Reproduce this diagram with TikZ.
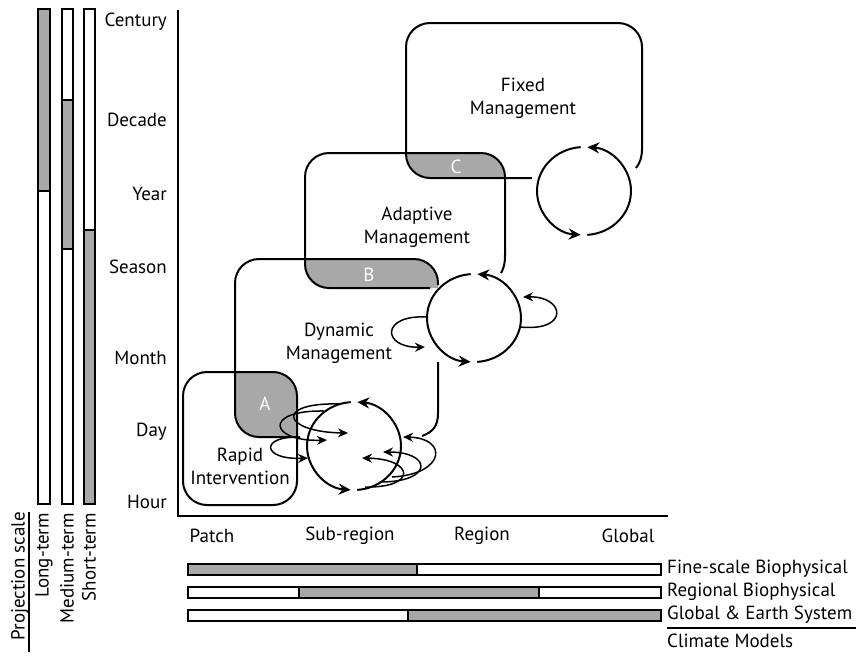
\documentclass[tikz,border=0pt]{standalone}
\usepackage{fontspec}
\setmainfont{PT Sans}
\usetikzlibrary{arrows.meta}
\definecolor{zonegray}{RGB}{168,168,168}

\begin{document}
\begin{tikzpicture}[x=1pt, y=-1pt,
        font=\fontsize{19}{23}\selectfont,
        edge/.style={line width=2pt},
        mgmt/.style={edge, rounded corners=24pt},
        cyc/.style={line width=2pt, -{Stealth[length=12pt,width=11pt]}},
        fb/.style={line width=1.5pt, -{Stealth[length=10pt,width=9pt]}},
        bar/.style={draw, line width=1.5pt},
        zone/.style={text=white, inner sep=0pt}]
        \useasboundingbox (0,0) rectangle (856,657);

        % overlap zones
        \begin{scope}
            \clip[rounded corners=24pt] (183,372) rectangle (297,505);
            \fill[zonegray, rounded corners=24pt] (235,259) rectangle (438,437);
        \end{scope}
        \begin{scope}
            \clip[rounded corners=24pt] (305,153) rectangle (505,288);
            \fill[zonegray, rounded corners=24pt] (235,259) rectangle (438,437);
        \end{scope}
        \begin{scope}
            \clip[rounded corners=24pt] (406,23) rectangle (642,178);
            \fill[zonegray, rounded corners=24pt] (305,153) rectangle (505,288);
        \end{scope}

        % management boxes
        \draw[mgmt] (183,372) rectangle (297,505);
        \draw[mgmt] (300,437) -- (235,437) -- (235,259) -- (438,259) -- (438,285);
        \draw[edge] (438,362) -- (438,413) .. controls (438,426) and (433,432) .. (422,436);
        \draw[mgmt] (430,288) -- (305,288) -- (305,153) -- (505,153) -- (505,256);
        \draw[edge] (505,255) .. controls (505,263) and (504,268) .. (501,273);
        \draw[mgmt] (532,178) -- (406,178) -- (406,23) -- (642,23) -- (642,150);
        \draw[edge] (642,149) .. controls (642,157) and (640,163) .. (636,168);

        \node[zone] (a) at (265,404) {A};
        \node[zone] (b) at (369,275) {B};
        \node[zone] (c) at (456,167) {C};
        \node[align=center] (fixed) at (523,98) {Fixed\\Management};
        \node[align=center] (adaptive) at (417,227) {Adaptive\\Management};
        \node[align=center] (dynamic) at (339,343) {Dynamic\\Management};
        \node[align=center] (rapid) at (240,466) {Rapid\\Intervention};

        % cycles
        \coordinate (fixc) at (584,191);
        \coordinate (adac) at (474,318);
        \coordinate (dync) at (354,446);
        \foreach \c in {fixc,adac,dync} {
            \draw[cyc] ([shift={(86:47 and 44)}]\c) arc[start angle=86, end angle=-86, x radius=47, y radius=44];
            \draw[cyc] ([shift={(266:47 and 44)}]\c) arc[start angle=266, end angle=94, x radius=47, y radius=44];
        }
        \begin{scope}[shift={(adac)}]
            \draw[fb] (46,9) .. controls (96,14) and (91,-22) .. (49,-21);
            \draw[fb] (-46,-1) .. controls (-94,-4) and (-92,30) .. (-49,29);
        \end{scope}
        \begin{scope}[shift={(dync)}]
            \draw[fb] (-14,-42) .. controls (-80,-44) and (-72,-14) .. (-6,-13);
            \draw[fb] (-30,-35) .. controls (-92,-36) and (-84,-4) .. (-27,-6);
            \draw[fb] (-54,-9) .. controls (-95,-10) and (-92,14) .. (-46,12);
            \draw[fb] (38,31) .. controls (92,28) and (94,-8) .. (49,-9);
            \draw[fb] (26,36) .. controls (80,36) and (78,6) .. (29,6);
            \draw[fb] (11,41) .. controls (64,42) and (60,13) .. (8,12);
        \end{scope}

        % axes
        \draw[edge] (178,10) -- (178,516) -- (668,516);
        \foreach \t/\y in {Century/22, Decade/120, Year/194, Season/267, Month/358, Day/432, Hour/502}
            \node[anchor=east, inner sep=0pt] (t-\t) at (167,\y) {\t};
        \foreach \s/\x in {Patch/212, Sub-region/350, Region/482, Global/628}
            \node[inner sep=0pt] (s-\s) at (\x,536) {\s};

        % projection scale bars
        \draw[bar, fill=white] (38,9) rectangle (50,504);
        \draw[bar, fill=zonegray] (38,9) rectangle (50,191);
        \draw[bar, fill=white] (62,9) rectangle (73,504);
        \draw[bar, fill=zonegray] (62,100) rectangle (73,249);
        \draw[bar, fill=white] (84,9) rectangle (95,504);
        \draw[bar, fill=zonegray] (84,230) rectangle (95,504);
        \node[rotate=90, anchor=east, inner sep=0pt] (proj) at (20,512) {Projection scale};
        \draw[line width=1.2pt] (29,512) -- (29,652);
        \node[rotate=90, anchor=east, inner sep=0pt] (long) at (44,513) {Long-term};
        \node[rotate=90, anchor=east, inner sep=0pt] (medium) at (67,513) {Medium-term};
        \node[rotate=90, anchor=east, inner sep=0pt] (short) at (89,513) {Short-term};

        % climate model bars
        \draw[bar, fill=white] (188,564) rectangle (661,575);
        \draw[bar, fill=zonegray] (188,564) rectangle (417,575);
        \draw[bar, fill=white] (188,587) rectangle (661,598);
        \draw[bar, fill=zonegray] (299,587) rectangle (539,598);
        \draw[bar, fill=white] (188,610) rectangle (661,621);
        \draw[bar, fill=zonegray] (408,610) rectangle (661,621);
        \node[anchor=west, inner sep=0pt] (fine) at (667,569) {Fine-scale Biophysical};
        \node[anchor=west, inner sep=0pt] (regional) at (667,592) {Regional Biophysical};
        \node[anchor=west, inner sep=0pt] (global) at (667,615) {Global \& Earth System};
        \draw[line width=1.2pt] (667,628) -- (856,628);
        \node[anchor=west, inner sep=0pt] (climate) at (667,641) {Climate Models};
\end{tikzpicture}
\end{document}
